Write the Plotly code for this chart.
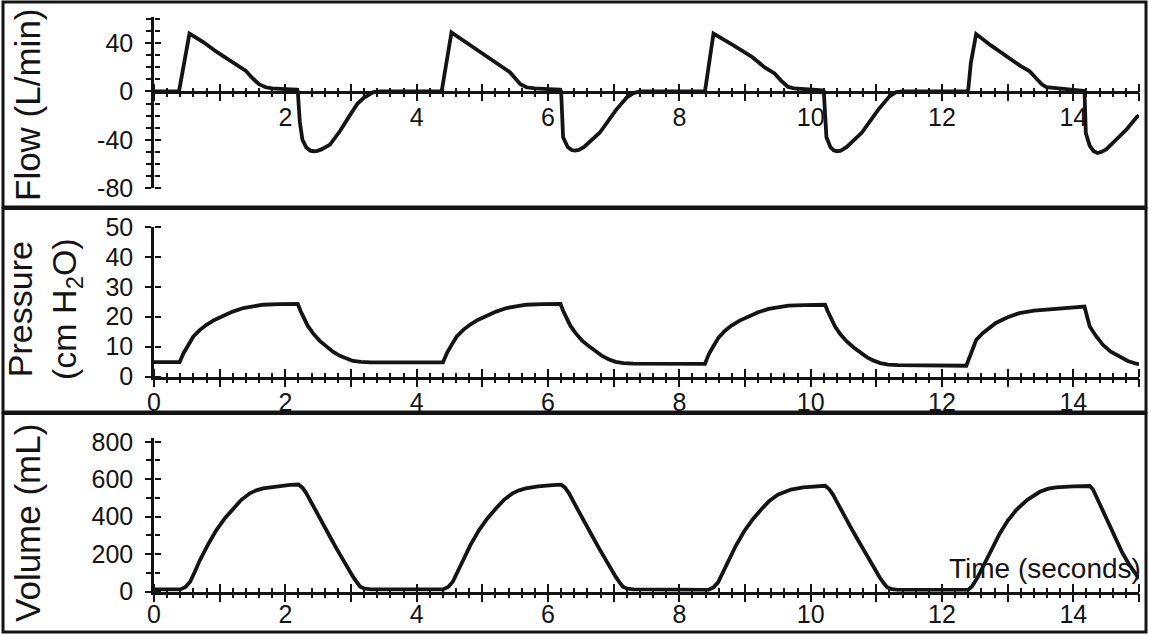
import plotly.graph_objects as go

W, H = 1149, 635
FONT = "Liberation Sans, Arial, Helvetica, sans-serif"
INK = "#141414"

# ---------------- data ----------------
flow_time = [0.00, 0.38, 0.54, 0.75, 0.95, 1.15, 1.31, 1.40, 1.50, 1.60, 1.70, 1.80, 2.00, 2.17,
             2.19, 2.22, 2.26, 2.32, 2.38, 2.43, 2.49, 2.55, 2.68, 2.83, 2.98, 3.10, 3.20, 3.34, 3.45,
             4.38, 4.53, 4.80, 5.11, 5.30, 5.42, 5.50, 5.58, 5.67, 5.80, 6.00, 6.18,
             6.20, 6.23, 6.30, 6.36, 6.41, 6.47, 6.55, 6.79, 7.04, 7.20, 7.30, 7.40,
             8.39, 8.52, 8.80, 9.10, 9.30, 9.45, 9.55, 9.65, 9.75, 10.00, 10.18,
             10.20, 10.24, 10.30, 10.35, 10.40, 10.46, 10.55, 10.78, 11.03, 11.20, 11.30, 11.40,
             12.38, 12.40, 12.44, 12.52, 12.75, 12.98, 13.20, 13.33, 13.43, 13.52, 13.59, 13.80, 14.00, 14.17,
             14.19, 14.25, 14.31, 14.37, 14.43, 14.50, 14.65, 14.80, 14.97, 15.00]
flow_values = [0, 0, 48, 41, 33, 26, 21, 17, 11, 6, 3.5, 2.5, 2, 1.5,
               0, -25, -40, -46.5, -49, -49.5, -49.2, -48, -44, -33, -20, -10, -5, -0.5, 0,
               0, 49, 39, 27, 20, 16, 11, 6, 3.5, 2.5, 2, 1.5,
               0, -38, -46, -48.5, -49, -48.5, -46, -34, -15, -5, -1.3, 0,
               0, 48, 39, 29, 20, 15, 9, 4, 2.5, 2, 1,
               0, -38, -46, -48.8, -49.5, -49, -46, -34, -15, -4, -0.5, 0,
               0, 2, 24, 47.6, 38, 29, 21, 17, 11, 6, 3.6, 2.5, 1.5, 0.5,
               -34.5, -45, -49.5, -51, -50, -48, -40, -32, -21, -20]

pressure_time = [0.00, 0.39, 0.45, 0.52, 0.60, 0.70, 0.80, 0.92, 1.05, 1.20, 1.36, 1.50, 1.66, 1.90, 2.19,
                 2.23, 2.27, 2.34, 2.42, 2.52, 2.63, 2.73, 2.83, 2.93, 3.03, 3.15, 3.30,
                 4.40, 4.46, 4.53, 4.61, 4.71, 4.81, 4.93, 5.06, 5.21, 5.37, 5.51, 5.67, 5.91, 6.19,
                 6.23, 6.27, 6.34, 6.42, 6.52, 6.63, 6.73, 6.83, 6.93, 7.03, 7.15, 7.30,
                 8.39, 8.45, 8.52, 8.60, 8.70, 8.80, 8.92, 9.05, 9.20, 9.36, 9.50, 9.66, 9.90, 10.22,
                 10.26, 10.30, 10.37, 10.45, 10.55, 10.66, 10.76, 10.86, 10.96, 11.06, 11.18, 11.33,
                 12.37, 12.44, 12.52, 12.62, 12.72, 12.82, 13.00, 13.18, 13.40, 13.63, 13.90, 14.17,
                 14.21, 14.25, 14.35, 14.45, 14.57, 14.70, 14.83, 14.97, 15.00]
pressure_values = [4.8, 4.8, 7.8, 10.5, 13.4, 15.6, 17.3, 18.9, 20.3, 21.7, 22.9, 23.5, 24.0, 24.2, 24.3,
                   22.0, 20.0, 17.0, 14.5, 12.0, 10.0, 8.2, 6.9, 5.9, 5.2, 4.9, 4.7,
                   4.7, 7.8, 10.5, 13.4, 15.6, 17.3, 18.9, 20.3, 21.7, 22.9, 23.5, 24.0, 24.2, 24.3,
                   22.0, 20.0, 17.0, 14.5, 12.0, 10.0, 8.2, 6.8, 5.7, 4.9, 4.5, 4.3,
                   4.2, 7.5, 10.2, 13.1, 15.4, 17.1, 18.7, 20.1, 21.5, 22.6, 23.2, 23.7, 23.9, 24.0,
                   21.8, 19.8, 16.8, 14.2, 11.7, 9.6, 7.8, 6.4, 5.3, 4.5, 4.0, 3.8,
                   3.6, 8.0, 12.2, 14.5, 16.3, 17.9, 19.8, 21.2, 22.0, 22.5, 23.0, 23.4,
                   20.0, 16.7, 13.4, 10.6, 8.3, 6.6, 5.2, 4.2, 4.1]

volume_time = [0.00, 0.40, 0.48, 0.55, 0.62, 0.70, 0.82, 0.95, 1.08, 1.21, 1.33, 1.46, 1.56, 1.66, 1.85, 2.07, 2.20,
               2.26, 2.32, 2.40, 2.48, 2.58, 2.68, 2.78, 2.88, 2.96, 3.03, 3.10, 3.14, 3.20, 3.30,
               4.40, 4.48, 4.55, 4.62, 4.70, 4.82, 4.95, 5.08, 5.21, 5.33, 5.46, 5.56, 5.66, 5.85, 6.07, 6.20,
               6.26, 6.32, 6.40, 6.48, 6.58, 6.68, 6.78, 6.88, 6.96, 7.03, 7.10, 7.14, 7.20, 7.30,
               8.44, 8.52, 8.59, 8.66, 8.74, 8.86, 8.99, 9.12, 9.25, 9.37, 9.50, 9.60, 9.70, 9.89, 10.11, 10.22,
               10.28, 10.34, 10.42, 10.50, 10.60, 10.70, 10.80, 10.90, 10.98, 11.05, 11.12, 11.16, 11.22, 11.32,
               12.40, 12.46, 12.54, 12.62, 12.75, 12.88, 13.00, 13.13, 13.30, 13.49, 13.62, 13.74, 14.00, 14.25,
               14.30, 14.35, 14.45, 14.55, 14.65, 14.75, 14.86, 14.97, 15.00]
volume_values = [12, 12, 25, 53, 105, 169, 250, 329, 392, 445, 490, 525, 541, 551, 562, 570, 572,
                 555, 525, 472, 418, 355, 293, 230, 169, 120, 80, 45, 27, 17, 12,
                 12, 25, 53, 105, 169, 250, 329, 392, 445, 490, 525, 541, 551, 562, 568, 571,
                 555, 525, 472, 418, 355, 293, 230, 169, 120, 80, 45, 27, 17, 12,
                 10, 23, 50, 100, 164, 245, 324, 387, 440, 484, 518, 534, 545, 556, 563, 565,
                 548, 518, 466, 412, 350, 288, 225, 164, 116, 77, 42, 25, 15, 10,
                 10, 30, 75, 133, 225, 311, 378, 436, 490, 533, 550, 557, 562, 564,
                 545, 507, 430, 347, 275, 205, 140, 80, 70]

time_ticks = list(range(0, 16))
time_labels_top = ["", "", "2", "", "4", "", "6", "", "8", "", "10", "", "12", "", "14", ""]
time_labels = ["0", "", "2", "", "4", "", "6", "", "8", "", "10", "", "12", "", "14", ""]
flow_ticks = [-80, -40, 0, 40]
flow_labels = ["-80", "-40", "0", "40"]
pressure_ticks = [0, 10, 20, 30, 40, 50]
pressure_labels = ["0", "10", "20", "30", "40", "50"]
volume_ticks = [0, 200, 400, 600, 800]
volume_labels = ["0", "200", "400", "600", "800"]

# ---------------- layout helpers ----------------
def fx(p):
    return p / W

def fy(p):
    return 1 - p / H

x_dom = [fx(154), fx(1139)]
top_dom = [fy(188), fy(16.7)]
mid_dom = [fy(376.5), fy(227)]
bot_dom = [fy(591.7), fy(438)]
top_xpos = fy(91.5)

tickfont = dict(family=FONT, size=25, color=INK)

def xaxis_main(labels, anchor, position=None, standoff=-6):
    d = dict(domain=x_dom, range=[0, 15], showgrid=False, zeroline=False, automargin=False,
             showline=True, linecolor=INK, linewidth=2.5,
             tickmode="array", tickvals=time_ticks, ticktext=labels,
             ticks="outside", ticklen=8, tickwidth=2, tickcolor=INK,
             tickfont=tickfont, ticklabelstandoff=standoff,
             minor=dict(tickmode="linear", tick0=0, dtick=0.2, ticks="outside",
                        ticklen=4, tickwidth=1.6, tickcolor=INK))
    if position is None:
        d["anchor"] = anchor
    else:
        d["anchor"] = "free"
        d["position"] = position
    return d

def xaxis_over(base, position):
    return dict(overlaying=base, anchor="free", position=position, side="top",
                range=[0, 15], showgrid=False, zeroline=False, showline=False, automargin=False,
                tickmode="array", tickvals=time_ticks,
                showticklabels=False,
                ticks="outside", ticklen=8, tickwidth=2, tickcolor=INK,
                minor=dict(tickmode="linear", tick0=0, dtick=0.2, ticks="outside",
                           ticklen=4, tickwidth=1.6, tickcolor=INK))

def yaxis_main(dom, rng, vals, labels, anchor, minor_dtick=None):
    d = dict(domain=dom, range=rng, anchor=anchor, showgrid=False, zeroline=False, automargin=False,
             showline=True, linecolor=INK, linewidth=2.5,
             tickmode="array", tickvals=vals, ticktext=labels,
             ticks="outside", ticklen=6, tickwidth=2, tickcolor=INK,
             tickfont=tickfont, ticklabelstandoff=7)
    if minor_dtick:
        d["minor"] = dict(tickmode="linear", tick0=0, dtick=minor_dtick, ticks="outside",
                          ticklen=5, tickwidth=1.8, tickcolor=INK)
    return d

def yaxis_over(base, rng, vals, minor_dtick=None):
    d = dict(overlaying=base, anchor="free", position=x_dom[0], side="right",
             range=rng, showgrid=False, zeroline=False, showline=False, automargin=False,
             tickmode="array", tickvals=vals, showticklabels=False,
             ticks="outside", ticklen=6, tickwidth=2, tickcolor=INK)
    if minor_dtick:
        d["minor"] = dict(tickmode="linear", tick0=0, dtick=minor_dtick, ticks="outside",
                          ticklen=5, tickwidth=1.8, tickcolor=INK)
    return d

line = dict(color=INK, width=3.8)

fig = go.Figure()
fig.add_trace(go.Scatter(x=flow_time, y=flow_values, mode="lines", line=line, xaxis="x", yaxis="y"))
fig.add_trace(go.Scatter(x=pressure_time, y=pressure_values, mode="lines", line=line, xaxis="x2", yaxis="y2"))
fig.add_trace(go.Scatter(x=volume_time, y=volume_values, mode="lines", line=line, xaxis="x3", yaxis="y3"))
# empty traces to bring overlay (tick-crossing) axes to life
for xa, ya in [("x4", "y"), ("x5", "y2"), ("x6", "y3"), ("x", "y4"), ("x2", "y5"), ("x3", "y6")]:
    fig.add_trace(go.Scatter(x=[], y=[], mode="lines", xaxis=xa, yaxis=ya, hoverinfo="skip"))

top_rng = [-80, 62]
mid_rng = [0, 50]
bot_rng = [0, 820]

fig.update_layout(
    template="none",
    width=W, height=H, margin=dict(l=0, r=0, t=0, b=0, pad=0, autoexpand=False),
    paper_bgcolor="white", plot_bgcolor="rgba(0,0,0,0)",
    showlegend=False,
    xaxis=xaxis_main(time_labels_top, None, position=top_xpos, standoff=-5),
    xaxis2=xaxis_main(time_labels, "y2", standoff=-6),
    xaxis3=xaxis_main(time_labels, "y3", standoff=-9),
    xaxis4=xaxis_over("x", top_xpos),
    xaxis5=xaxis_over("x2", mid_dom[0]),
    xaxis6=xaxis_over("x3", bot_dom[0]),
    yaxis=yaxis_main(top_dom, top_rng, flow_ticks, flow_labels, "x", minor_dtick=10),
    yaxis2=yaxis_main(mid_dom, mid_rng, pressure_ticks, pressure_labels, "x2"),
    yaxis3=yaxis_main(bot_dom, bot_rng, volume_ticks, volume_labels, "x3", minor_dtick=100),
    yaxis4=yaxis_over("y", top_rng, flow_ticks, minor_dtick=10),
    yaxis5=yaxis_over("y2", mid_rng, pressure_ticks),
    yaxis6=yaxis_over("y3", bot_rng, volume_ticks, minor_dtick=100),
)

# panel frames
for top, bottom in [(2, 207), (208.5, 412), (413.5, 632)]:
    fig.add_shape(type="rect", xref="paper", yref="paper",
                  x0=fx(3), x1=fx(1146), y0=fy(bottom), y1=fy(top),
                  line=dict(color=INK, width=3), fillcolor="rgba(0,0,0,0)")

title_font = dict(family=FONT, size=35, color=INK)
fig.add_annotation(text="Flow (L/min)", xref="paper", yref="paper", x=fx(27), y=fy(105),
                   textangle=-90, showarrow=False, font=title_font, xanchor="center", yanchor="middle")
fig.add_annotation(text="Pressure<br>(cm H<sub>2</sub>O)", xref="paper", yref="paper", x=fx(44), y=fy(309),
                   textangle=-90, showarrow=False, font=dict(family=FONT, size=34, color=INK),
                   xanchor="center", yanchor="middle")
fig.add_annotation(text="Volume (mL)", xref="paper", yref="paper", x=fx(27), y=fy(523),
                   textangle=-90, showarrow=False, font=title_font, xanchor="center", yanchor="middle")
fig.add_annotation(text="Time (seconds)", xref="paper", yref="paper", x=fx(947), y=fy(568),
                   showarrow=False, font=dict(family=FONT, size=28, color=INK),
                   xanchor="left", yanchor="middle")

fig.write_html("out.html", post_script="document.body.style.margin='0';",
               config={"displayModeBar": False})
